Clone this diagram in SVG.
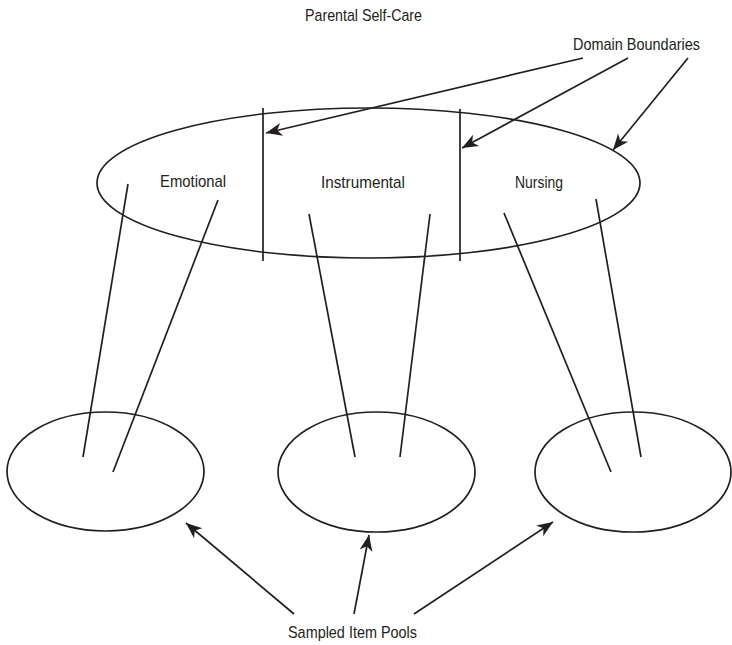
<svg xmlns="http://www.w3.org/2000/svg" width="732" height="645" viewBox="0 0 732 645">
<style>
.shape{fill:none;stroke:#231f20;stroke-width:1.7}
.line{fill:none;stroke:#231f20;stroke-width:1.7}
.arrow{fill:none;stroke:#231f20;stroke-width:1.7;marker-end:url(#ah)}
text{font-family:"Liberation Sans",Arial,sans-serif;font-size:17px;fill:#231f20}
</style>
<defs>
<marker id="ah" markerUnits="userSpaceOnUse" markerWidth="20" markerHeight="14" viewBox="-17 -7 18 14" refX="0" refY="0" orient="auto">
<path d="M0,0 L-16,-6.5 L-11.5,0 L-16,6.5 Z" fill="#231f20"/>
</marker>
</defs>
<rect width="732" height="645" fill="#ffffff"/>
<text x="305" y="21" textLength="117" lengthAdjust="spacingAndGlyphs">Parental Self-Care</text>
<text x="573" y="50" textLength="127" lengthAdjust="spacingAndGlyphs">Domain Boundaries</text>
<g id="parental-self-care">
<ellipse class="shape" cx="368.5" cy="183" rx="271.5" ry="75"/>
<line class="line" x1="263" y1="108" x2="263" y2="261"/>
<line class="line" x1="460" y1="109" x2="460" y2="261"/>
</g>
<g id="emotional"><text x="160" y="187" textLength="66" lengthAdjust="spacingAndGlyphs">Emotional</text></g>
<g id="instrumental"><text x="321" y="188" textLength="84" lengthAdjust="spacingAndGlyphs">Instrumental</text></g>
<g id="nursing"><text x="515" y="188" textLength="48" lengthAdjust="spacingAndGlyphs">Nursing</text></g>
<g id="pool-emotional"><ellipse class="shape" cx="105.5" cy="471.5" rx="98.5" ry="59.5"/></g>
<g id="pool-instrumental"><ellipse class="shape" cx="376.5" cy="472" rx="98.5" ry="60"/></g>
<g id="pool-nursing"><ellipse class="shape" cx="633" cy="472" rx="98" ry="60"/></g>
<g id="sampled-item-pools"><text x="288" y="638" textLength="129" lengthAdjust="spacingAndGlyphs">Sampled Item Pools</text></g>
<g id="connectors">
<line class="line" x1="128" y1="184" x2="83" y2="457"/>
<line class="line" x1="218" y1="200" x2="113" y2="472"/>
<line class="line" x1="309" y1="214" x2="355" y2="457"/>
<line class="line" x1="430" y1="214" x2="400" y2="457"/>
<line class="line" x1="504" y1="213" x2="611" y2="472"/>
<line class="line" x1="596" y1="199" x2="641" y2="457"/>
<line class="arrow" x1="583" y1="58" x2="266" y2="133"/>
<line class="arrow" x1="628" y1="58" x2="462" y2="148"/>
<line class="arrow" x1="688" y1="58" x2="613" y2="150"/>
<line class="arrow" x1="294" y1="614" x2="186" y2="523"/>
<line class="arrow" x1="354" y1="614" x2="369" y2="535"/>
<line class="arrow" x1="414" y1="614" x2="553" y2="522"/>
</g>
</svg>
